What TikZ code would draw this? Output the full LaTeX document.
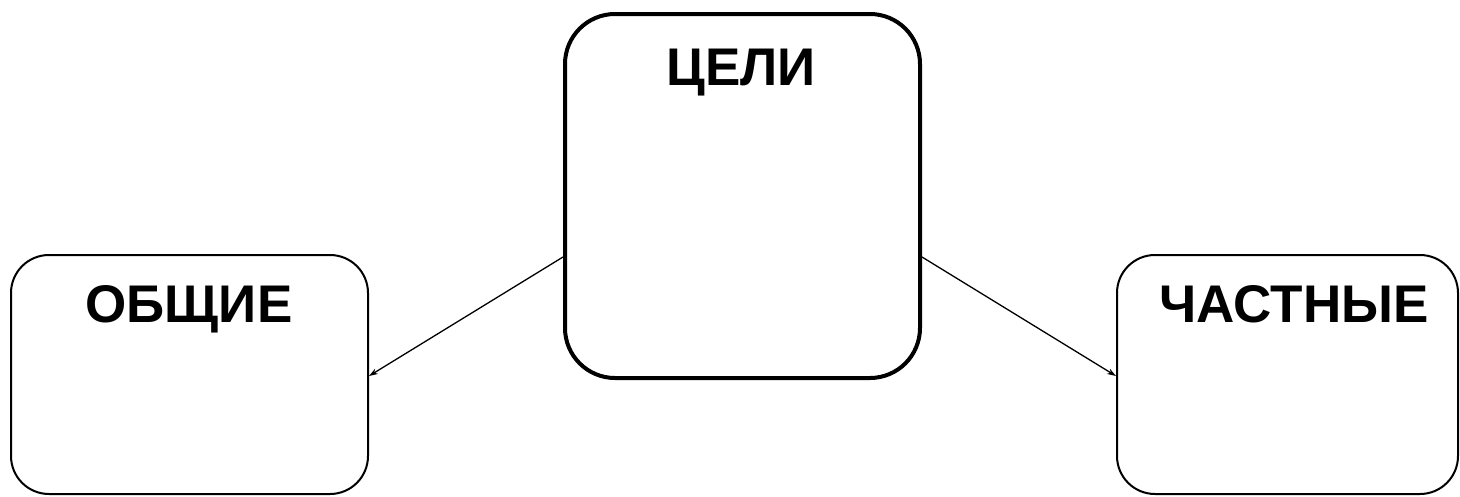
\documentclass[tikz,border=0pt]{standalone}
\usepackage{fontspec}
\setmainfont{Liberation Sans}
\usetikzlibrary{arrows.meta}
\begin{document}
\begin{tikzpicture}[x=1pt,y=-1pt,
  bigbox/.style={draw=black, line width=4pt, rounded corners=50pt, minimum width=355pt, minimum height=364pt, inner sep=0pt},
  sidebox/.style={draw=black, line width=2pt, rounded corners=38pt, minimum height=239pt, inner sep=0pt},
  title/.style={anchor=base, font=\fontsize{53}{60}\selectfont\bfseries, inner sep=0pt},
  conn/.style={line width=1.3pt, -{Stealth[length=9pt,width=6pt]}}]
\useasboundingbox (0,0) rectangle (1460,496);
\node[bigbox] (cel) at (742.5,196) {};
\node[sidebox, minimum width=357pt] (obs) at (189.5,374.5) {};
\node[sidebox, minimum width=341pt] (cha) at (1287.5,374.5) {};
\node[title] (tcel) at (741,85) {ЦЕЛИ};
\node[title] (tobs) at (189,322) {ОБЩИЕ};
\node[title] (tcha) at (1294,322) {ЧАСТНЫЕ};
\draw[conn] ([yshift=-61pt]cel.west) -- ([yshift=-1.5pt]obs.east);
\draw[conn] ([yshift=-61pt]cel.east) -- ([yshift=-1.5pt]cha.west);
\end{tikzpicture}
\end{document}
